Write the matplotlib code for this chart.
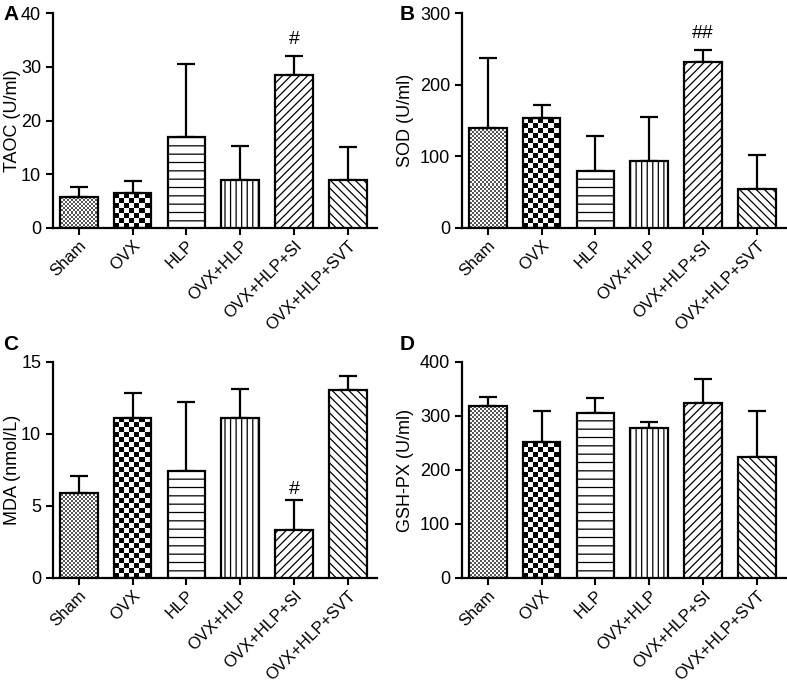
import numpy as np
import matplotlib.pyplot as plt

# groups and values (mean, upper error bar)
groups = ['Sham', 'OVX', 'HLP', 'OVX+HLP', 'OVX+HLP+SI', 'OVX+HLP+SVT']

taoc_mean = [5.8, 6.6, 17.0, 9.0, 28.4, 9.0]
taoc_sd = [1.8, 2.1, 13.5, 6.2, 3.6, 6.0]

sod_mean = [140, 153, 80, 94, 232, 54]
sod_sd = [97, 19, 49, 61, 16, 48]

mda_mean = [5.9, 11.1, 7.4, 11.1, 3.3, 13.05]
mda_sd = [1.2, 1.75, 4.8, 2.05, 2.15, 0.95]

gsh_mean = [318, 252, 305, 278, 324, 224]
gsh_sd = [18, 57, 29, 11, 45, 86]

ylabels = ['TAOC (U/ml)', 'SOD (U/ml)', 'MDA (nmol/L)', 'GSH-PX (U/ml)']
ymax = [40, 300, 15, 400]
ystep = [10, 100, 5, 100]
letters = ['A', 'B', 'C', 'D']
marks = [{4: '#'}, {4: '##'}, {4: '#'}, {}]

plt.rcParams['font.family'] = ['Liberation Sans', 'DejaVu Sans']
plt.rcParams['hatch.linewidth'] = 0.9

W, H = 787, 683
fig = plt.figure(figsize=(W / 100, H / 100), dpi=100)

# axes boxes in pixels: left, top, right, bottom
boxes = [(53, 13, 377, 228), (462, 13, 786, 228),
         (53, 362, 377, 578), (462, 362, 786, 578)]
label_x = [21, 414, 21, 414]
letter_pos = [(3, 5), (400, 5), (3, 335), (400, 335)]

means = [taoc_mean, sod_mean, mda_mean, gsh_mean]
sds = [taoc_sd, sod_sd, mda_sd, gsh_sd]
hatches = [None, None, '--', '|||', '////', '\\\\\\\\']
checker_px = {0: 2, 1: 5}
checker_vmin = {0: -0.5, 1: 0}
mark_off = [6, 6, 1, 6]


def checker(nx, ny):
    return np.indices((ny, nx)).sum(axis=0) % 2


x = np.arange(len(groups))
for i in range(4):
    l, t, r, b = boxes[i]
    ax = fig.add_axes([l / W, 1 - b / H, (r - l) / W, (b - t) / H])
    bars = ax.bar(x, means[i], width=0.7, color='white', edgecolor='black',
                  linewidth=1.6, zorder=3)
    for j, bar in enumerate(bars):
        if hatches[j]:
            bar.set_hatch(hatches[j])
        if j in checker_px:
            bar.set_facecolor('none')
            s = checker_px[j]
            img = ax.imshow(checker((r - l) // s, (b - t) // s), cmap='gray',
                            vmin=checker_vmin[j], vmax=1,
                            interpolation='nearest', aspect='auto',
                            extent=(0, 1, 0, 1), transform=ax.transAxes,
                            zorder=2)
            img.set_clip_path(bar)
    ax.errorbar(x, means[i], yerr=[np.zeros(len(x)), sds[i]], fmt='none',
                ecolor='black', elinewidth=1.6, capsize=6.5, capthick=1.6,
                zorder=2.5)
    for j, m in marks[i].items():
        ax.annotate(m, (x[j], means[i][j] + sds[i][j]),
                    xytext=(0, mark_off[i]), textcoords='offset points',
                    ha='center', va='bottom', fontsize=14)

    ax.set_xlim(-0.48, 5.54)
    ax.set_ylim(0, ymax[i])
    ax.set_yticks(np.arange(0, ymax[i] + 1, ystep[i]))
    ax.set_xticks(x)
    ax.set_xticklabels(groups, rotation=45, ha='right', rotation_mode='anchor')
    ax.tick_params(width=1.5, length=5, labelsize=13, color='black')
    ax.tick_params(axis='x', labelsize=12, pad=2)
    for side in ['top', 'right']:
        ax.spines[side].set_visible(False)
    for side in ['left', 'bottom']:
        ax.spines[side].set_linewidth(1.6)
    ax.set_ylabel(ylabels[i], fontsize=13)
    ax.yaxis.set_label_coords((label_x[i] - l) / (r - l), 0.5)
    fig.text(letter_pos[i][0] / W, 1 - letter_pos[i][1] / H, letters[i],
             fontsize=15, fontweight='bold', va='top', ha='left')

fig.savefig('out.png', dpi=100)
